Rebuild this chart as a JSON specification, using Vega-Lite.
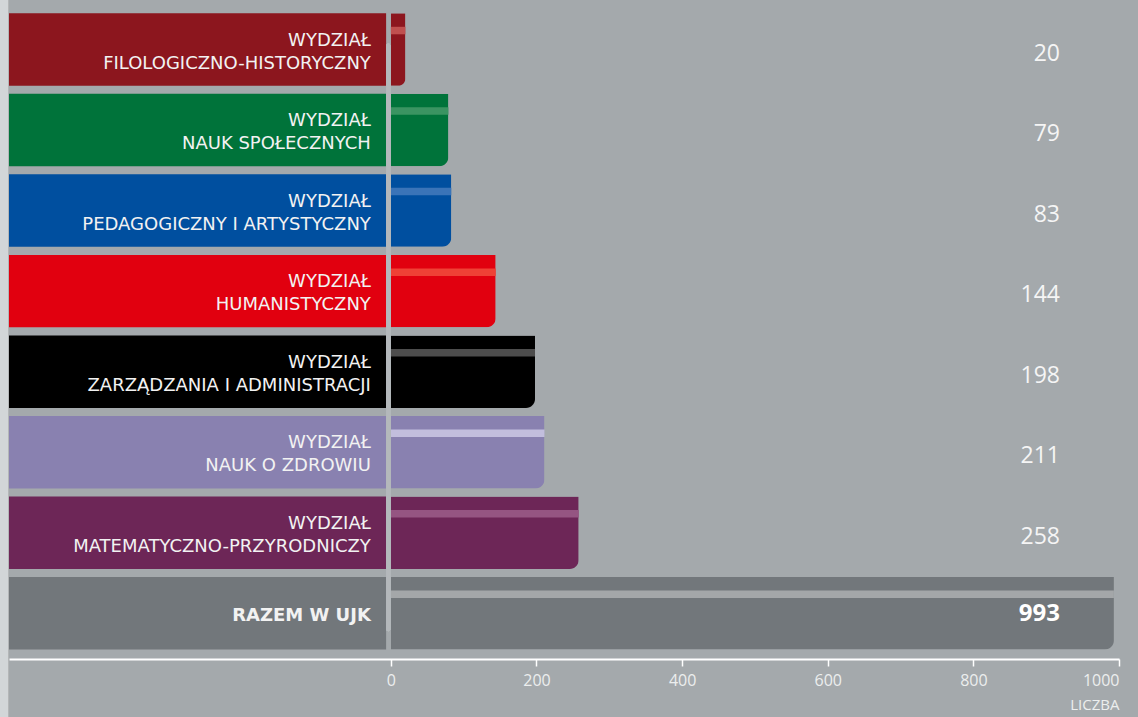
{
  "$schema": "https://vega.github.io/schema/vega-lite/v6.json",
  "width": 1138,
  "height": 717,
  "autosize": "none",
  "padding": 0,
  "background": "#a4a9ac",
  "config": {"view": {"stroke": null}, "font": "Open Sans"},
  "data": {"values": [
    {"faculty": "WYDZIAŁ\nFILOLOGICZNO-HISTORYCZNY", "count": 20},
    {"faculty": "WYDZIAŁ\nNAUK SPOŁECZNYCH", "count": 79},
    {"faculty": "WYDZIAŁ\nPEDAGOGICZNY I ARTYSTYCZNY", "count": 83},
    {"faculty": "WYDZIAŁ\nHUMANISTYCZNY", "count": 144},
    {"faculty": "WYDZIAŁ\nZARZĄDZANIA I ADMINISTRACJI", "count": 198},
    {"faculty": "WYDZIAŁ\nNAUK O ZDROWIU", "count": 211},
    {"faculty": "WYDZIAŁ\nMATEMATYCZNO-PRZYRODNICZY", "count": 258},
    {"faculty": "RAZEM W UJK", "count": 993}
  ]},
  "encoding": {
    "y": {"field": "faculty", "type": "nominal", "sort": null, "axis": null,
      "scale": {"range": [13.3, 649.5], "paddingInner": 0.1, "paddingOuter": 0}}
  },
  "layer": [
    {
      "mark": {"type": "rect", "color": "#d2d6d8"},
      "encoding": {
        "y": null,
        "x": {"datum": -537, "type": "quantitative",
          "scale": {"domain": [-524.4, 1000], "range": [9, 1119], "zero": false, "nice": false},
          "axis": {
            "values": [0, 200, 400, 600, 800, 1000],
            "format": "d",
            "offset": -58,
            "domainColor": "#ffffff", "domainWidth": 2,
            "tickColor": "#ffffff", "tickSize": 7, "tickWidth": 1.5,
            "labelColor": "#eceeee", "labelFontSize": 16, "labelFont": "Open Sans", "labelPadding": 6,
            "grid": false,
            "title": "LICZBA", "titleAnchor": "end", "titleFontSize": 15, "titleFontWeight": "normal",
            "titleColor": "#eceeee", "titleFont": "Open Sans", "titlePadding": 9
          }},
        "x2": {"datum": -525.7}
      }
    },
    {
      "mark": {"type": "bar"},
      "encoding": {
        "x": {"datum": -524.4, "type": "quantitative"},
        "x2": {"datum": -6.5},
        "color": {"field": "faculty", "type": "nominal", "legend": null,
          "scale": {"domain": [
            "WYDZIAŁ\nFILOLOGICZNO-HISTORYCZNY", "WYDZIAŁ\nNAUK SPOŁECZNYCH", "WYDZIAŁ\nPEDAGOGICZNY I ARTYSTYCZNY",
            "WYDZIAŁ\nHUMANISTYCZNY", "WYDZIAŁ\nZARZĄDZANIA I ADMINISTRACJI", "WYDZIAŁ\nNAUK O ZDROWIU",
            "WYDZIAŁ\nMATEMATYCZNO-PRZYRODNICZY", "RAZEM W UJK"],
            "range": ["#8c161e", "#00733a", "#004f9f", "#e1000f", "#000000", "#8981b0", "#6d2657", "#72777b"]}}
      }
    },
    {
      "mark": {"type": "bar", "cornerRadiusBottomRight": 9},
      "encoding": {
        "x": {"field": "count", "type": "quantitative"},
        "color": {"field": "faculty", "type": "nominal", "legend": null}
      }
    },
    {
      "mark": {"type": "bar", "height": 7.5, "yOffset": -19},
      "encoding": {
        "x": {"field": "count", "type": "quantitative"},
        "fill": {"field": "faculty", "type": "nominal", "legend": null,
          "scale": {"domain": [
            "WYDZIAŁ\nFILOLOGICZNO-HISTORYCZNY", "WYDZIAŁ\nNAUK SPOŁECZNYCH", "WYDZIAŁ\nPEDAGOGICZNY I ARTYSTYCZNY",
            "WYDZIAŁ\nHUMANISTYCZNY", "WYDZIAŁ\nZARZĄDZANIA I ADMINISTRACJI", "WYDZIAŁ\nNAUK O ZDROWIU",
            "WYDZIAŁ\nMATEMATYCZNO-PRZYRODNICZY", "RAZEM W UJK"],
            "range": ["#c0504f", "#3b9462", "#3a74b8", "#ef4136", "#4d4d4d", "#c2bedd", "#955582", "#a4a7a9"]}}
      }
    },
    {
      "mark": {"type": "rule", "color": "#b4b8bb", "strokeWidth": 4, "strokeCap": "round", "yOffset": -4, "y2Offset": 16},
      "encoding": {
        "x": {"datum": -3.4, "type": "quantitative"},
        "y": {"datum": "WYDZIAŁ\nFILOLOGICZNO-HISTORYCZNY"},
        "y2": {"datum": "RAZEM W UJK"}
      }
    },
    {
      "transform": [{"filter": "datum.faculty !== 'RAZEM W UJK'"}],
      "mark": {"type": "text", "align": "right", "baseline": "middle", "dx": -20, "dy": -9,
        "lineBreak": "\n", "lineHeight": 23, "fontSize": 18, "color": "#f2f2f2", "font": "DejaVu Sans"},
      "encoding": {
        "x": {"datum": 0, "type": "quantitative"},
        "text": {"field": "faculty"}
      }
    },
    {
      "transform": [{"filter": "datum.faculty === 'RAZEM W UJK'"}],
      "mark": {"type": "text", "align": "right", "baseline": "middle", "dx": -20, "dy": 3,
        "fontSize": 18, "fontWeight": "bold", "color": "#f2f2f2", "font": "DejaVu Sans"},
      "encoding": {
        "x": {"datum": 0, "type": "quantitative"},
        "text": {"field": "faculty"}
      }
    },
    {
      "transform": [{"filter": "datum.faculty !== 'RAZEM W UJK'"}],
      "mark": {"type": "text", "align": "right", "baseline": "middle", "dx": -59, "dy": 4,
        "fontSize": 23, "color": "#f5f5f5", "font": "Open Sans"},
      "encoding": {
        "x": {"datum": 1000, "type": "quantitative"},
        "text": {"field": "count"}
      }
    },
    {
      "transform": [{"filter": "datum.faculty === 'RAZEM W UJK'"}],
      "mark": {"type": "text", "align": "right", "baseline": "middle", "dx": -59, "dy": 1,
        "fontSize": 24, "fontWeight": "bold", "color": "#ffffff", "font": "Open Sans"},
      "encoding": {
        "x": {"datum": 1000, "type": "quantitative"},
        "text": {"field": "count"}
      }
    }
  ]
}
